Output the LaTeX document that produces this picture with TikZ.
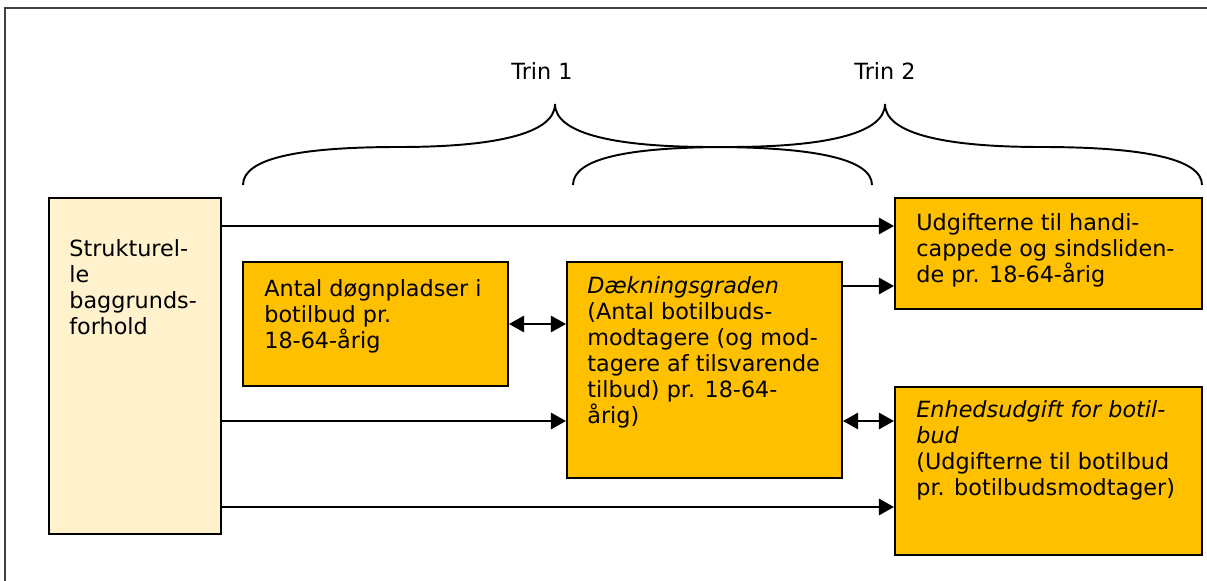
\documentclass[tikz,border=0pt]{standalone}
\usepackage{fontspec}
\setmainfont{DejaVu Sans}
\usetikzlibrary{arrows.meta,fit}
\definecolor{boxgold}{HTML}{FFC000}
\definecolor{boxcream}{HTML}{FFF2CC}
\tikzset{
  box/.style={draw, line width=1.2pt, fill=boxgold, inner sep=0pt},
  txt/.style={anchor=base west, align=left, inner sep=0pt, font=\fontsize{12.7}{14.7}\selectfont},
  link/.style={line width=0.8pt, -{Triangle[length=0.3cm,width=0.33cm]}},
  twolink/.style={line width=0.8pt, {Triangle[length=0.3cm,width=0.33cm]}-{Triangle[length=0.3cm,width=0.33cm]}},
  curly/.style={line width=1.1pt},
}
\begin{document}
\begin{tikzpicture}[x=0.02cm, y=-0.02cm]
    \useasboundingbox (0,0) rectangle (1207,581);
    \draw[black!75, line width=0.85pt] (5,581) -- (5,8) -- (1207,8); %frame

    % boxes
    \node[box, fill=boxcream, fit={(49,198) (221,534)}] (sb) {};
    \node[box, fit={(243,262) (508,386)}] (antal) {};
    \node[box, fit={(567,262) (842,478)}] (daek) {};
    \node[box, fit={(895,198) (1202,309)}] (udg) {};
    \node[box, fit={(895,387) (1202,555)}] (enh) {};

    % texts (anchored at baseline of last line)
    \node[txt] (sbtxt) at (69,334) {Strukturel-\\le\\baggrunds-\\forhold};
    \node[txt] (antaltxt) at (264,348) {Antal døgnpladser i\\botilbud pr.\\18-64-årig};
    \node[txt] (daektxt) at (587,423) {\textit{Dækningsgraden}\\(Antal botilbuds-\\modtagere (og mod-\\tagere af tilsvarende\\tilbud) pr. 18-64-\\årig)};
    \node[txt] (udgtxt) at (916,282) {Udgifterne til handi-\\cappede og sindsliden-\\de pr. 18-64-årig};
    \node[txt] (enhtxt) at (916,495) {\textit{Enhedsudgift for botil-}\\\textit{bud}\\(Udgifterne til botilbud\\pr. botilbudsmodtager)};

    % braces
    \draw[curly] (243,185) .. controls (243,158) and (300,147) .. (399,147)
        .. controls (490,147) and (555,135) .. (555,104)
        .. controls (555,135) and (620,147) .. (711,147)
        .. controls (810,147) and (872,158) .. (872,185);
    \draw[curly] (573,185) .. controls (573,158) and (630,147) .. (729,147)
        .. controls (820,147) and (885,135) .. (885,104)
        .. controls (885,135) and (950,147) .. (1041,147)
        .. controls (1140,147) and (1202,158) .. (1202,185);
    \node[txt, anchor=base] (trin1) at (542,80) {Trin 1};
    \node[txt, anchor=base] (trin2) at (885,80) {Trin 2};

    % connectors
    \coordinate (r1) at (0,226);
    \coordinate (r2) at (0,324);
    \coordinate (r3) at (0,286);
    \coordinate (r4) at (0,421);
    \coordinate (r5) at (0,507);
    \draw[link] (sb.east |- r1) -- (udg.west |- r1);
    \draw[twolink] (antal.east |- r2) -- (daek.west |- r2);
    \draw[link] (daek.east |- r3) -- (udg.west |- r3);
    \draw[link] (sb.east |- r4) -- (daek.west |- r4);
    \draw[twolink] (daek.east |- r4) -- (enh.west |- r4);
    \draw[link] (sb.east |- r5) -- (enh.west |- r5);
\end{tikzpicture}
\end{document}
